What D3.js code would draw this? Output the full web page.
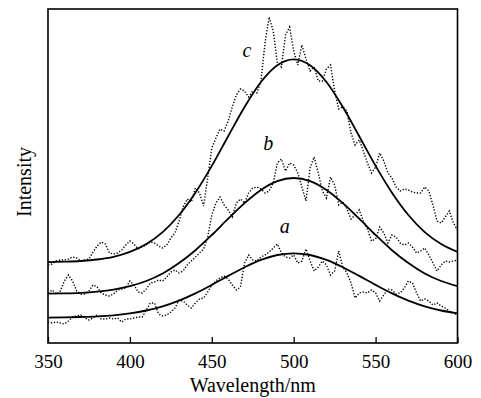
<!DOCTYPE html>
<html lang="en">
<head>
<meta charset="utf-8">
<title>Intensity vs wavelength</title>
<script src="https://cdn.jsdelivr.net/npm/d3@7"></script>
<style>
  body { margin: 0; background: #fff; }
  svg { display: block; }
  text { font-family: "Liberation Serif", "Times New Roman", serif; fill: #000; }
  .fit { fill: none; stroke: #000; stroke-width: 1.8; }
  .raw { fill: none; stroke: #000; stroke-width: 1.4; stroke-dasharray: 1.3 1.7; }
</style>
</head>
<body>
<script>
// fitted curves, every 10 nm from 350 to 600
const fitWl = [350, 360, 370, 380, 390, 400, 410, 420, 430, 440, 450, 460, 470,
  480, 490, 500, 510, 520, 530, 540, 550, 560, 570, 580, 590, 600];
const fitC = [80.9, 81.3, 82.0, 83.5, 86.2, 91.1, 99.0, 110.9, 128.0, 150.3, 177.1, 206.8, 236.0,
  261.0, 277.8, 283.7, 277.8, 261.0, 236.0, 206.8, 177.1, 150.3, 128.0, 110.9, 99.0, 91.1];
const fitB = [49.3, 49.6, 50.2, 51.4, 53.4, 56.8, 62.0, 69.5, 79.9, 92.8, 108.0, 124.3, 139.9,
  153.1, 161.9, 165.0, 161.9, 153.1, 139.9, 124.3, 108.0, 92.8, 79.9, 69.5, 62.0, 56.8];
const fitA = [25.4, 25.6, 26.0, 26.6, 27.7, 29.6, 32.5, 36.7, 42.4, 49.6, 58.1, 67.1, 75.8,
  83.1, 88.0, 89.7, 88.0, 83.1, 75.8, 67.1, 58.1, 49.6, 42.4, 36.7, 32.5, 29.6];

// measured spectra, every 2.5 nm from 350 to 600
const rawWl = d3.range(350, 600.1, 2.5);
const rawC = [78, 79, 82, 83, 83, 84, 86, 85, 82, 83, 84, 91, 97, 101, 99, 90, 89, 90, 93, 98,
  102, 99, 94, 96, 98, 101, 100, 97, 95, 98, 105, 110, 122, 136, 144, 141, 155, 150, 137, 165,
  195, 205, 214, 212, 222, 236, 248, 254, 252, 246, 252, 250, 262, 300, 326, 312, 280, 276, 308, 316,
  292, 278, 298, 284, 272, 276, 262, 262, 274, 278, 252, 234, 236, 232, 210, 198, 203, 192, 180, 170,
  176, 190, 182, 170, 165, 156, 152, 154, 153, 151, 150, 150, 156, 152, 138, 122, 120, 126, 132, 120,
  113];
const rawB = [50, 53, 49, 52, 62, 68, 62, 52, 49, 49, 52, 58, 56, 50, 48, 47, 49, 53, 54, 55,
  62, 58, 51, 50, 54, 60, 61, 63, 62, 66, 71, 73, 70, 72, 78, 82, 86, 90, 94, 106,
  128, 140, 146, 138, 133, 126, 140, 144, 140, 150, 155, 156, 154, 150, 152, 160, 180, 184, 172, 180,
  178, 170, 156, 142, 175, 186, 170, 152, 145, 166, 158, 138, 141, 134, 124, 128, 133, 122, 114, 102,
  104, 116, 110, 100, 108, 106, 100, 98, 100, 96, 90, 92, 95, 88, 80, 72, 78, 82, 81, 82,
  83];
const rawA = [21, 20, 21, 20, 19, 22, 26, 27, 28, 25, 23, 25, 28, 24, 24, 25, 24, 25, 21, 24,
  24, 25, 26, 26, 33, 40, 40, 29, 27, 28, 31, 35, 43, 42, 38, 35, 40, 44, 45, 51,
  58, 62, 65, 67, 64, 58, 53, 56, 80, 88, 83, 82, 86, 88, 91, 95, 99, 90, 86, 85,
  88, 80, 82, 94, 82, 72, 76, 82, 78, 68, 72, 92, 76, 70, 60, 45, 50, 51, 50, 53,
  50, 42, 48, 54, 53, 49, 50, 55, 62, 60, 50, 42, 44, 42, 38, 40, 37, 35, 32, 30,
  28];

const xTicks = [350, 400, 450, 500, 550, 600];
const seriesNames = ["a", "b", "c"];

const W = 481, H = 398;
const m = { top: 9, right: 23.5, bottom: 55, left: 48 };

const svg = d3.select("body").append("svg")
  .attr("width", W)
  .attr("height", H);

const x = d3.scaleLinear().domain([350, 600]).range([m.left, W - m.right]);
const y = d3.scaleLinear().domain([0, 334]).range([H - m.bottom, m.top]);

const fitLine = d3.line()
  .x((d, i) => x(fitWl[i]))
  .y(d => y(d))
  .curve(d3.curveMonotoneX);

const rawLine = d3.line()
  .x((d, i) => x(rawWl[i]))
  .y(d => y(d));

const series = [
  { name: seriesNames[0], raw: rawA, fit: fitA, lab: [494.5, 110] },
  { name: seriesNames[1], raw: rawB, fit: fitB, lab: [484.5, 193] },
  { name: seriesNames[2], raw: rawC, fit: fitC, lab: [471.5, 286] }
];

// dotted raw data
svg.selectAll(".raw")
  .data(series)
  .join("path")
  .attr("class", "raw")
  .attr("d", d => rawLine(d.raw));

// fitted curves
svg.selectAll(".fit")
  .data(series)
  .join("path")
  .attr("class", "fit")
  .attr("d", d => fitLine(d.fit));

// curve letters
svg.selectAll(".lab")
  .data(series)
  .join("text")
  .attr("class", "lab")
  .attr("x", d => x(d.lab[0]))
  .attr("y", d => y(d.lab[1]))
  .attr("text-anchor", "middle")
  .style("font-style", "italic")
  .style("font-size", "20px")
  .text(d => d.name);

// x axis, ticks pointing inward
const xAxis = svg.append("g")
  .attr("transform", `translate(0,${H - m.bottom})`)
  .call(d3.axisBottom(x).tickValues(xTicks).tickSize(-6).tickPadding(12).tickFormat(d3.format("d")));
xAxis.select(".domain").remove();
xAxis.selectAll("line").attr("stroke", "#000").attr("stroke-width", 1.3);
xAxis.selectAll("text")
  .style("font-family", '"Liberation Serif", serif')
  .style("font-size", "19px");

// frame
svg.append("rect")
  .attr("x", m.left)
  .attr("y", m.top)
  .attr("width", W - m.left - m.right)
  .attr("height", H - m.top - m.bottom)
  .attr("fill", "none")
  .attr("stroke", "#000")
  .attr("stroke-width", 1.6);

// axis titles
svg.append("text")
  .attr("x", (m.left + W - m.right) / 2)
  .attr("y", 392)
  .attr("text-anchor", "middle")
  .style("font-size", "20px")
  .text("Wavelength/nm");

svg.append("text")
  .attr("transform", "translate(31,182) rotate(-90)")
  .attr("text-anchor", "middle")
  .style("font-size", "20px")
  .text("Intensity");
</script>
</body>
</html>
